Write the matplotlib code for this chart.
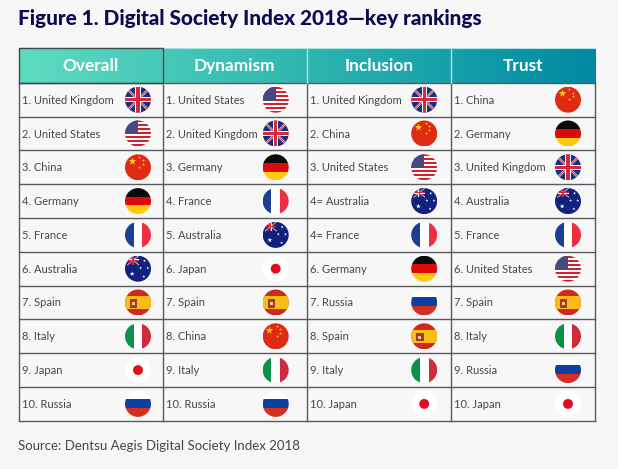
import matplotlib
matplotlib.use("Agg")
import matplotlib.pyplot as plt
import numpy as np
from matplotlib.patches import Circle, Polygon, Rectangle

plt.rcParams['font.family'] = ['Lato', 'DejaVu Sans']

title = "Figure 1. Digital Society Index 2018\u2014key rankings"
source = "Source: Dentsu Aegis Digital Society Index 2018"
headers = ["Overall", "Dynamism", "Inclusion", "Trust"]

overall = ["United Kingdom", "United States", "China", "Germany", "France",
           "Australia", "Spain", "Italy", "Japan", "Russia"]
dynamism = ["United States", "United Kingdom", "Germany", "France", "Australia",
            "Japan", "Spain", "China", "Italy", "Russia"]
inclusion = ["United Kingdom", "China", "United States", "Australia", "France",
             "Germany", "Russia", "Spain", "Italy", "Japan"]
trust = ["China", "Germany", "United Kingdom", "Australia", "France",
         "United States", "Spain", "Italy", "Russia", "Japan"]
columns = [overall, dynamism, inclusion, trust]

ranks = ["1.", "2.", "3.", "4.", "5.", "6.", "7.", "8.", "9.", "10."]
inclusion_ranks = ["1.", "2.", "3.", "4=", "4=", "6.", "7.", "8.", "9.", "10."]
rank_labels = [ranks, ranks, inclusion_ranks, ranks]

# table layout in pixels
col_edges = [18.5, 162.5, 306.5, 451, 595]
header_top = 48.5
header_bottom = 82.8
row_h = 33.8
flag_x = [138, 275.7, 424.2, 568]
flag_r = 13

INK = "#45454f"
LINE = "#5a5a5a"
NAVY = "#0b0b52"


def bar(ax, clip, x0, y0, x1, y1, color):
    p = Rectangle((x0, y0), x1 - x0, y1 - y0, fc=color, ec="none", zorder=3)
    ax.add_patch(p)
    p.set_clip_path(clip)


def poly(ax, clip, pts, color):
    p = Polygon(pts, closed=True, fc=color, ec="none", zorder=3)
    ax.add_patch(p)
    p.set_clip_path(clip)


def stars(ax, clip, xs, ys, size, color):
    s = ax.scatter(xs, ys, s=size, marker="*", c=color, linewidths=0, zorder=4)
    s.set_clip_path(clip)


def union_jack(ax, clip, x0, y0, x1, y1):
    w = (x1 - x0) * 0.06
    h = (y1 - y0) * 0.06
    bar(ax, clip, x0, y0, x1, y1, "#16307e")
    for a, b, c, d in [(x0, y0, x1, y1), (x0, y1, x1, y0)]:
        s = np.sign(d - b)
        poly(ax, clip, [(a - w, b), (a, b - h * s), (c + w, d), (c, d + h * s)], "white")
        poly(ax, clip, [(a - w / 2, b), (a, b - h / 2 * s), (c + w / 2, d), (c, d + h / 2 * s)], "#d8283c")
    mx, my = (x0 + x1) / 2, (y0 + y1) / 2
    bar(ax, clip, mx - 1.7 * w, y0, mx + 1.7 * w, y1, "white")
    bar(ax, clip, x0, my - 1.7 * h, x1, my + 1.7 * h, "white")
    bar(ax, clip, mx - w, y0, mx + w, y1, "#d8283c")
    bar(ax, clip, x0, my - h, x1, my + h, "#d8283c")


def draw_flag(ax, name, cx, cy, r):
    clip = Circle((cx, cy), r, fc="white", ec="none", zorder=2)
    ax.add_patch(clip)
    L, R, T, B = cx - r, cx + r, cy - r, cy + r
    if name == "United Kingdom":
        union_jack(ax, clip, L, T, R, B)
    elif name == "United States":
        stripe = 2 * r / 13
        for i in range(0, 13, 2):
            bar(ax, clip, L, T + i * stripe, R, T + (i + 1) * stripe, "#d3202f")
        bar(ax, clip, L, T, cx, T + 7 * stripe, "#474a80")
    elif name == "China":
        bar(ax, clip, L, T, R, B, "#e02b14")
        stars(ax, clip, [cx - r * 0.5], [cy - r * 0.5], 32, "#fcd116")
        stars(ax, clip, [cx + r * 0.1, cx + r * 0.35, cx + r * 0.35, cx + r * 0.1],
              [cy - r * 0.8, cy - r * 0.55, cy - r * 0.25, cy - r * 0.02], 5, "#fcd116")
    elif name == "Germany":
        bar(ax, clip, L, T, R, cy - r / 3, "#0a0a0a")
        bar(ax, clip, L, cy - r / 3, R, cy + r / 3, "#dc0a0a")
        bar(ax, clip, L, cy + r / 3, R, B, "#fdc90d")
    elif name == "France":
        bar(ax, clip, L, T, cx - r / 3, B, "#1c3f94")
        bar(ax, clip, cx + r / 3, T, R, B, "#ef2e42")
    elif name == "Italy":
        bar(ax, clip, L, T, cx - r / 3, B, "#0d9148")
        bar(ax, clip, cx + r / 3, T, R, B, "#cf2b3c")
    elif name == "Russia":
        bar(ax, clip, L, cy - r * 0.4, R, cy + r * 0.3, "#0d3fa0")
        bar(ax, clip, L, cy + r * 0.3, R, B, "#d5301f")
    elif name == "Japan":
        ax.add_patch(Circle((cx, cy), r * 0.38, fc="#e60a1e", ec="none", zorder=3))
    elif name == "Spain":
        bar(ax, clip, L, T, R, B, "#d0281e")
        bar(ax, clip, L, cy - r * 0.52, R, cy + r * 0.52, "#fabd15")
        ax.add_patch(Rectangle((cx - r * 0.6, cy - r * 0.25), r * 0.55, r * 0.65, fc="#a83a26", ec="none", zorder=4))
        ax.add_patch(Rectangle((cx - r * 0.45, cy - r * 0.05), r * 0.22, r * 0.28, fc="#e9c9a0", ec="none", zorder=5))
    elif name == "Australia":
        bar(ax, clip, L, T, R, B, "#10217e")
        union_jack(ax, clip, L + r * 0.2, T, cx + r * 0.05, cy - r * 0.3)
        stars(ax, clip, [cx - r * 0.45, cx + r * 0.5, cx + r * 0.2, cx + r * 0.75, cx + r * 0.45],
              [cy + r * 0.4, cy - r * 0.6, cy - r * 0.05, cy - r * 0.05, cy + r * 0.6],
              [13, 5, 5, 5, 5], "white")


fig = plt.figure(figsize=(6.18, 4.69), dpi=100, facecolor="#f7f7f7")
ax = fig.add_axes([0, 0, 1, 1])
ax.axis("off")

ax.text(18, 25.3, title, fontsize=14.95, fontweight="black", color=NAVY, va="baseline", ha="left")

# header gradient
grad = np.linspace(0, 1, 256).reshape(1, -1)
cmap = matplotlib.colors.LinearSegmentedColormap.from_list(
    "head", ["#5fdcc0", "#2db5b0", "#0088a2"])
ax.imshow(grad, extent=[col_edges[0], col_edges[-1], header_bottom, header_top],
          cmap=cmap, aspect="auto", zorder=1)
ax.set_xlim(0, 618)
ax.set_ylim(469, 0)

for i, h in enumerate(headers):
    ax.text((col_edges[i] + col_edges[i + 1]) / 2, 71, h,
            fontsize=12.4, fontweight="bold", color="white", ha="center", va="baseline", zorder=6)

# grid lines
table_bottom = header_bottom + row_h * len(overall)
for i in range(len(overall) + 1):
    y = header_bottom + i * row_h
    ax.plot([col_edges[0], col_edges[-1]], [y, y], color=LINE, lw=1.0, zorder=1.5)
for x in col_edges:
    ax.plot([x, x], [header_bottom, table_bottom], color=LINE, lw=1.0, zorder=1.5)
for x in col_edges[1:-1]:
    ax.plot([x, x], [header_top, header_bottom], color="#a8e4e2", lw=1.0, zorder=2)
ax.plot([col_edges[0], col_edges[-1]], [header_top, header_top], color="#a8e4e2", lw=0.8, zorder=2)
ax.add_patch(Rectangle((col_edges[0], header_top), col_edges[1] - col_edges[0], header_bottom - header_top,
                       fc="none", ec="#3c4a4a", lw=1.0, zorder=3))

# rows
for c, names in enumerate(columns):
    for r, name in enumerate(names):
        cy = header_bottom + (r + 0.5) * row_h
        ax.text(col_edges[c] + 3, cy + 4, f"{rank_labels[c][r]} {name}", fontsize=8.0, color=INK,
                va="baseline", ha="left", zorder=6)
        draw_flag(ax, name, flag_x[c], cy, flag_r)

ax.text(18, 450, source, fontsize=9.55, color=INK, va="baseline", ha="left")

fig.savefig("out.png", dpi=100, facecolor=fig.get_facecolor())
